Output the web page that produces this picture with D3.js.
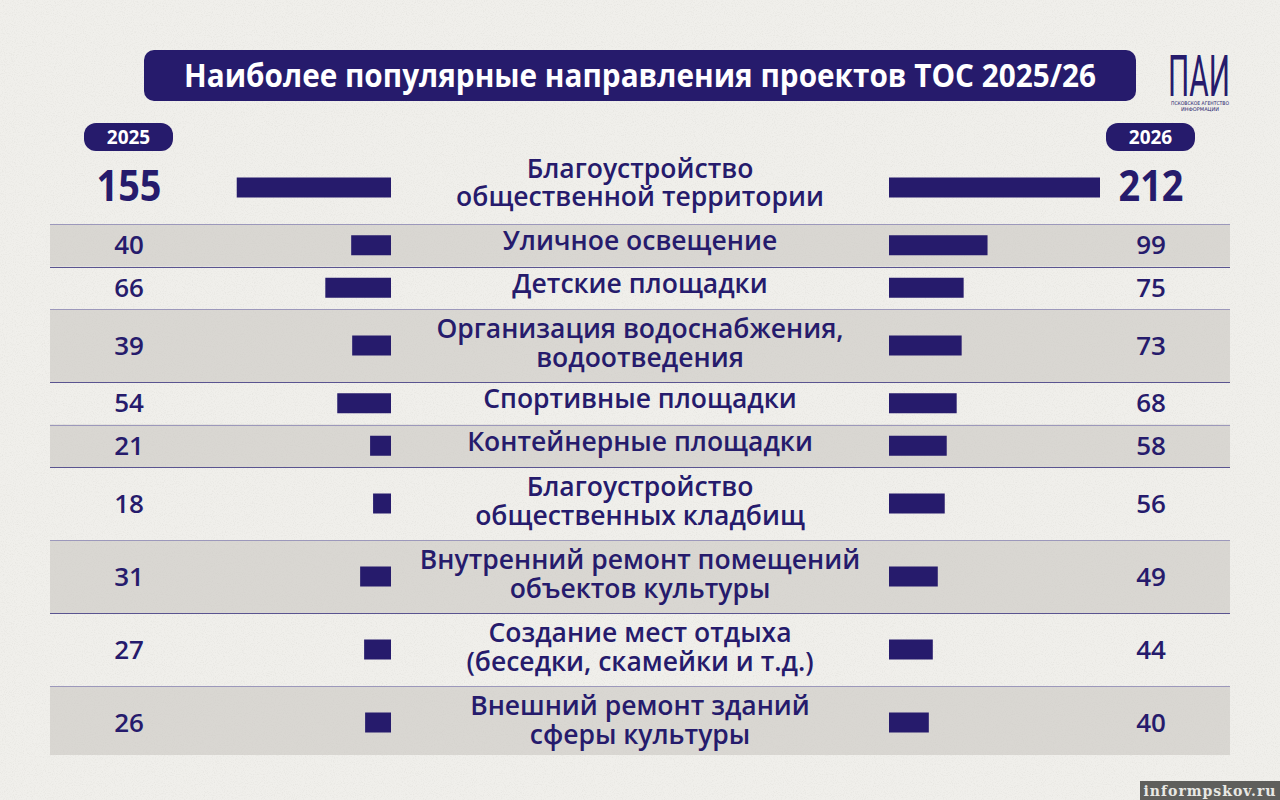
<!DOCTYPE html>
<html><head><meta charset="utf-8">
<script src="https://cdn.jsdelivr.net/npm/d3@7"></script>
<style>
html,body{margin:0;padding:0;background:#efeee9;}
svg{display:block;}
</style></head>
<body>
<svg id="chart" width="1280" height="800"></svg>
<script>
// ---- data ----
const title = "Наиболее популярные направления проектов ТОС 2025/26";
const years = ["2025", "2026"];
const categories = [
  "Благоустройство\nобщественной территории",
  "Уличное освещение",
  "Детские площадки",
  "Организация водоснабжения,\nводоотведения",
  "Спортивные площадки",
  "Контейнерные площадки",
  "Благоустройство\nобщественных кладбищ",
  "Внутренний ремонт помещений\nобъектов культуры",
  "Создание мест отдыха\n(беседки, скамейки и т.д.)",
  "Внешний ремонт зданий\nсферы культуры"
];
const values2025 = [155, 40, 66, 39, 54, 21, 18, 31, 27, 26];
const values2026 = [212, 99, 75, 73, 68, 58, 56, 49, 44, 40];
const source = "informpskov.ru";

// ---- drawing ----
const navy = "#261b6c";
const svg = d3.select("#chart");
const W = 1280, H = 800;

// paper texture
const defs = svg.append("defs");
const f = defs.append("filter").attr("id","paper").attr("x",0).attr("y",0).attr("width","100%").attr("height","100%");
f.append("feTurbulence").attr("type","fractalNoise").attr("baseFrequency",0.9).attr("numOctaves",2).attr("seed",3).attr("result","n");
f.append("feColorMatrix").attr("in","n").attr("type","matrix")
  .attr("values","0 0 0 0 0.45  0 0 0 0 0.44  0 0 0 0 0.40  0 0 0 -1.4 0.75");
svg.append("rect").attr("width",W).attr("height",H).attr("fill","#f0efeb");
svg.append("rect").attr("width",W).attr("height",H).attr("fill","#000").attr("filter","url(#paper)").attr("opacity",0.25);

// row layout
const rows = categories.map((c,i)=>({label:c.split("\n"), v25:values2025[i], v26:values2026[i], i}));
let y0 = 151;
rows.forEach(r=>{ r.h = r.label.length>1 ? 73 : 42.5; r.y = y0; y0 += r.h; r.cy = r.y + r.h/2; });
rows[rows.length-1].h = 69;

// bands
const bandX0 = 50, bandX1 = 1230;
svg.append("g").selectAll("rect").data(rows.filter(r=>r.i%2===1)).join("rect")
  .attr("x",bandX0).attr("y",d=>d.y).attr("width",bandX1-bandX0).attr("height",d=>d.h)
  .attr("fill","#c9c7c1").attr("opacity",0.6);
// separator lines
svg.append("g").selectAll("line").data(rows.slice(1)).join("line")
  .attr("x1",bandX0).attr("x2",bandX1)
  .attr("y1",d=>Math.round(d.y)+0.5).attr("y2",d=>Math.round(d.y)+0.5)
  .attr("stroke",(d)=>d.i%2===1?"#9c98bb":"#5a5490").attr("stroke-width",1.2);

// scales
const maxV = d3.max(values2025.concat(values2026));
const x = d3.scaleLinear().domain([0, maxV]).range([0, 211]);
const leftEdge = 391, rightEdge = 889;

// bars
svg.append("g").selectAll("rect").data(rows).join("rect")
  .attr("x",d=>leftEdge - x(d.v25)).attr("width",d=>x(d.v25))
  .attr("y",d=>d.cy-10).attr("height",20).attr("fill",navy);
svg.append("g").selectAll("rect").data(rows).join("rect")
  .attr("x",rightEdge).attr("width",d=>x(d.v26))
  .attr("y",d=>d.cy-10).attr("height",20).attr("fill",navy);

// numbers
const numFont = "'Open Sans', sans-serif";
function nums(key, cx){
  svg.append("g").selectAll("text").data(rows).join("text")
    .attr("x",cx).attr("y",d=>d.i===0 ? d.cy+13 : d.cy+9)
    .attr("text-anchor","middle").attr("fill",navy)
    .attr("font-family",numFont)
    .attr("font-weight",d=>d.i===0?700:600)
    .attr("font-size",d=>d.i===0?43:26)
    .attr("textLength",d=>d.i===0?65:null)
    .attr("lengthAdjust","spacingAndGlyphs")
    .text(d=>d[key]);
}
nums("v25", 129);
nums("v26", 1151);

// center labels (one text element per line)
const lines = [];
rows.forEach(d=>{
  const n = d.label.length;
  d.label.forEach((s,k)=>{
    const off = d.i===0 ? -10 : -7.5;
    lines.push({s, y: n===1 ? d.cy + 5 : d.cy + off + k*28.5});
  });
});
svg.append("g").selectAll("text").data(lines).join("text")
  .attr("x",640).attr("y",d=>d.y)
  .attr("text-anchor","middle").attr("fill",navy)
  .attr("font-family","'Open Sans', sans-serif").attr("font-weight",600).attr("font-size",26.5)
  .text(d=>d.s);

// title pill
svg.append("rect").attr("x",144).attr("y",50).attr("width",992).attr("height",51).attr("rx",10).attr("fill",navy);
svg.append("text").attr("x",640).attr("y",87).attr("text-anchor","middle")
  .attr("fill","#fff").attr("font-family","'Open Sans', sans-serif").attr("font-weight",700)
  .attr("font-size",33).attr("textLength",912).attr("lengthAdjust","spacingAndGlyphs").text(title);

// year badges
const badges = [{t:years[0], x:84},{t:years[1], x:1106}];
svg.append("g").selectAll("rect").data(badges).join("rect")
  .attr("x",d=>d.x).attr("y",123).attr("width",89).attr("height",28).attr("rx",12).attr("fill",navy);
svg.append("g").selectAll("text").data(badges).join("text")
  .attr("x",d=>d.x+44.5).attr("y",144).attr("text-anchor","middle").attr("fill","#fff")
  .attr("font-family","'Open Sans', sans-serif").attr("font-weight",700).attr("font-size",19).text(d=>d.t);

// logo
svg.append("text").attr("x",1168).attr("y",96).attr("fill",navy)
  .attr("font-family","'Liberation Sans Narrow','Roboto', sans-serif").attr("font-weight",400).attr("font-size",58)
  .attr("textLength",62).attr("lengthAdjust","spacingAndGlyphs").text("ПАИ");
svg.append("text").attr("x",1200).attr("y",105).attr("text-anchor","middle").attr("fill",navy)
  .attr("font-family","'DejaVu Sans', sans-serif").attr("font-size",5)
  .attr("textLength",58).attr("lengthAdjust","spacingAndGlyphs").text("ПСКОВСКОЕ АГЕНТСТВО");
svg.append("text").attr("x",1200).attr("y",111).attr("text-anchor","middle").attr("fill",navy)
  .attr("font-family","'DejaVu Sans', sans-serif").attr("font-size",5).text("ИНФОРМАЦИИ");

// source watermark
svg.append("rect").attr("x",1140).attr("y",781).attr("width",140).attr("height",19).attr("fill","#5f5f5c");
svg.append("text").attr("x",1210).attr("y",796).attr("text-anchor","middle").attr("fill","#e8e8e4")
  .attr("font-family","'DejaVu Serif', serif").attr("font-weight",700).attr("font-size",14)
  .attr("letter-spacing",1).text(source);
</script>
</body></html>
